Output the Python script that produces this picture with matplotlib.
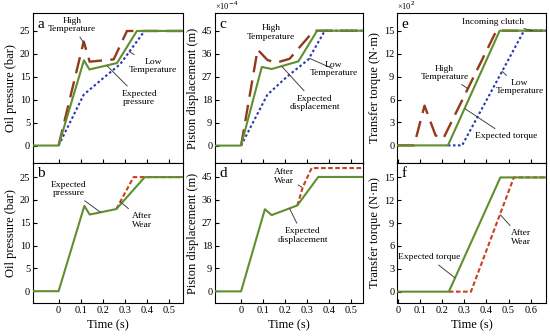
import matplotlib
matplotlib.use("Agg")
import matplotlib.pyplot as plt

plt.rcParams.update({
    "font.family": "Liberation Serif",
    "font.size": 8,
    "xtick.direction": "in",
    "ytick.direction": "in",
    "xtick.major.size": 3,
    "ytick.major.size": 3,
    "axes.linewidth": 0.8,
})

GREEN = "#5f8f2f"
BROWN = "#93391c"
BLUE = "#2a36b0"
RED = "#c8401e"
LEAD = "#444444"

# ---- panel a: oil pressure vs temperature ----
a_exp_t = [-0.12, 0.0, 0.115, 0.14, 0.265, 0.355, 0.56]
a_exp_p = [0, 0, 18.6, 16.6, 18.0, 25, 25]
a_high_t = [0.0, 0.114, 0.141, 0.25, 0.31, 0.56]
a_high_p = [0, 22.7, 18.3, 18.8, 25, 25]
a_low_t = [0.0, 0.114, 0.20, 0.28, 0.39, 0.56]
a_low_p = [0, 11.1, 14.6, 17.8, 25, 25]

# ---- panel b: oil pressure after wear ----
b_exp_t = [-0.12, 0.0, 0.117, 0.141, 0.262, 0.391, 0.56]
b_exp_p = [0, 0, 18.7, 16.8, 18.0, 25, 25]
b_wear_t = [0.262, 0.34, 0.56]
b_wear_p = [18.0, 25, 25]

# ---- panel c: piston displacement vs temperature ----
c_exp_t = [-0.12, 0.0, 0.094, 0.139, 0.26, 0.345, 0.55]
c_exp_x = [0, 0, 30.8, 30.0, 33.0, 45, 45]
c_high_t = [0.0, 0.075, 0.12, 0.16, 0.22, 0.33, 0.55]
c_high_x = [0, 37.6, 33.5, 32.5, 34.0, 45, 45]
c_low_t = [0.0, 0.119, 0.207, 0.305, 0.38, 0.55]
c_low_x = [0, 19.9, 26.9, 33.7, 45, 45]

# ---- panel d: piston displacement after wear ----
d_exp_t = [-0.12, 0.0, 0.108, 0.139, 0.255, 0.35, 0.55]
d_exp_x = [0, 0, 32.3, 30.0, 33.8, 45, 45]
d_wear_t = [0.255, 0.28, 0.32, 0.55]
d_wear_x = [33.8, 41.0, 48.5, 48.5]

# ---- panel e: transfer torque vs temperature (x10^2) ----
e_exp_t = [0.0, 0.226, 0.46, 0.68]
e_exp_q = [0, 0, 15, 15]
e_high_t = [0.0, 0.073, 0.12, 0.17, 0.205, 0.445, 0.68]
e_high_q = [0, 0, 5.2, 1.3, 0.9, 15, 15]
e_low_t = [0.226, 0.29, 0.57, 0.68]
e_low_q = [0, 0, 15, 15]

# ---- panel f: transfer torque after wear ----
f_exp_t = [0.0, 0.23, 0.463, 0.68]
f_exp_q = [0, 0, 15, 15]
f_wear_t = [0.23, 0.33, 0.524, 0.68]
f_wear_q = [0, 0, 15, 15]

T_TICKS_12 = [0, 0.1, 0.2, 0.3, 0.4, 0.5]
T_TICKS_3 = [0, 0.1, 0.2, 0.3, 0.4, 0.5, 0.6]
T_LABELS_12 = ["0", "0.1", "0.2", "0.3", "0.4", "0.5"]
T_LABELS_3 = ["0", "0.1", "0.2", "0.3", "0.4", "0.5", "0.6"]

fig = plt.figure(figsize=(5.5, 3.36), dpi=100)
lefts = [0.060, 0.391, 0.722]
widths = [0.273, 0.269, 0.271]
top_row = (0.515, 0.446)
bot_row = (0.098, 0.417)

axes = {}
for i, key in enumerate(["ab", "cd", "ef"]):
    axes[key[0]] = fig.add_axes([lefts[i], top_row[0], widths[i], top_row[1]])
    axes[key[1]] = fig.add_axes([lefts[i], bot_row[0], widths[i], bot_row[1]])


def lead(ax, text, xytext, xy=None):
    kw = dict(ha="center", va="center", fontsize=6.8, linespacing=1.05)
    if xy is None:
        ax.text(*xytext, text, **kw)
    else:
        ax.annotate(text, xy=xy, xytext=xytext,
                    arrowprops=dict(arrowstyle="-", color=LEAD, lw=0.7,
                                    shrinkA=1, shrinkB=0), **kw)


def solid(ax, t, y):
    ax.plot(t, y, color=GREEN, lw=1.5, zorder=3)


# a
ax = axes["a"]
ax.plot(a_high_t, a_high_p, color=BROWN, lw=1.7, dashes=(7, 3.5), zorder=2)
ax.plot(a_low_t, a_low_p, color=BLUE, lw=1.5, dashes=(1.2, 1.2), zorder=2)
solid(ax, a_exp_t, a_exp_p)
lead(ax, "High\nTemperature", (0.06, 26.3), (0.12, 22.0))
lead(ax, "Low\nTemperature", (0.43, 17.3), (0.32, 20.5))
lead(ax, "Expected\npressure", (0.365, 10.4), (0.22, 17.4))

# b
ax = axes["b"]
ax.plot(b_wear_t, b_wear_p, color=RED, lw=1.5, dashes=(2.2, 1.2), zorder=2)
solid(ax, b_exp_t, b_exp_p)
lead(ax, "Expected\npressure", (0.045, 22.4), (0.19, 17.3))
lead(ax, "After\nWear", (0.38, 15.5), (0.28, 19.6))

# c
ax = axes["c"]
ax.plot(c_high_t, c_high_x, color=BROWN, lw=1.7, dashes=(7, 3.5), zorder=2)
ax.plot(c_low_t, c_low_x, color=BLUE, lw=1.5, dashes=(1.2, 1.2), zorder=2)
solid(ax, c_exp_t, c_exp_x)
lead(ax, "High\nTemperature", (0.135, 44.3))
lead(ax, "Low\nTemperature", (0.42, 30.0), (0.31, 34.2))
lead(ax, "Expected\ndisplacement", (0.335, 16.8), (0.185, 31.0))

# d
ax = axes["d"]
ax.plot(d_wear_t, d_wear_x, color=RED, lw=1.5, dashes=(2.2, 1.2), zorder=2)
solid(ax, d_exp_t, d_exp_x)
lead(ax, "After\nWear", (0.195, 45.2), (0.275, 41.0))
lead(ax, "Expected\ndisplacement", (0.28, 22.0), (0.22, 32.6))

# e
ax = axes["e"]
ax.plot(e_high_t, e_high_q, color=BROWN, lw=1.7, dashes=(7, 3.5), zorder=2)
ax.plot(e_low_t, e_low_q, color=BLUE, lw=1.5, dashes=(1.2, 1.2), zorder=2)
solid(ax, e_exp_t, e_exp_q)
lead(ax, "Incoming clutch", (0.43, 16.2), (0.61, 15.0))
lead(ax, "High\nTemperature", (0.21, 9.5), (0.317, 7.4))
lead(ax, "Low\nTemperature", (0.55, 7.6), (0.47, 9.7))
lead(ax, "Expected torque", (0.49, 1.2), (0.303, 4.8))

# f
ax = axes["f"]
ax.plot(f_wear_t, f_wear_q, color=RED, lw=1.5, dashes=(2.2, 1.2), zorder=2)
solid(ax, f_exp_t, f_exp_q)
lead(ax, "Expected torque", (0.14, 4.5), (0.258, 1.8))
lead(ax, "After\nWear", (0.555, 7.1), (0.463, 10.1))

# axes styling
limits = {
    "a": ((-0.116, 0.565), (-3.8, 28.9)),
    "b": ((-0.116, 0.565), (-2.6, 28.1)),
    "c": ((-0.118, 0.553), (-6.8, 51.9)),
    "d": ((-0.118, 0.553), (-4.6, 50.5)),
    "e": ((-0.004, 0.67), (-2.3, 17.3)),
    "f": ((-0.004, 0.67), (-1.5, 16.9)),
}
yticks = {"a": [0, 5, 10, 15, 20, 25], "c": [0, 9, 18, 27, 36, 45],
          "e": [0, 3, 6, 9, 12, 15]}
ylabels = {"a": "Oil pressure (bar)", "c": "Piston displacement (m)",
           "e": "Transfer torque (N\u00b7m)"}

for top, bot in [("a", "b"), ("c", "d"), ("e", "f")]:
    ticks, labs = (T_TICKS_3, T_LABELS_3) if top == "e" else (T_TICKS_12, T_LABELS_12)
    for k in (top, bot):
        ax = axes[k]
        ax.set_xlim(*limits[k][0])
        ax.set_ylim(*limits[k][1])
        ax.set_yticks(yticks[top])
        ax.set_xticks(ticks)
        ax.set_ylabel(ylabels[top], fontsize=9, labelpad=2)
        ax.tick_params(labelsize=7.5, pad=2)
        ax.text(0.03, 0.97, k, transform=ax.transAxes, fontsize=11,
                ha="left", va="top")
    axes[top].set_xticklabels([])
    axes[bot].set_xticklabels(labs)
    axes[bot].set_xlabel("Time (s)", fontsize=9, labelpad=3)

axes["c"].text(0.0, 1.005, "\u00d710$^{-4}$", transform=axes["c"].transAxes,
               fontsize=6, ha="left", va="bottom")
axes["e"].text(0.0, 1.005, "\u00d710$^{2}$", transform=axes["e"].transAxes,
               fontsize=6, ha="left", va="bottom")

fig.savefig("out.png", dpi=100, facecolor="white")
